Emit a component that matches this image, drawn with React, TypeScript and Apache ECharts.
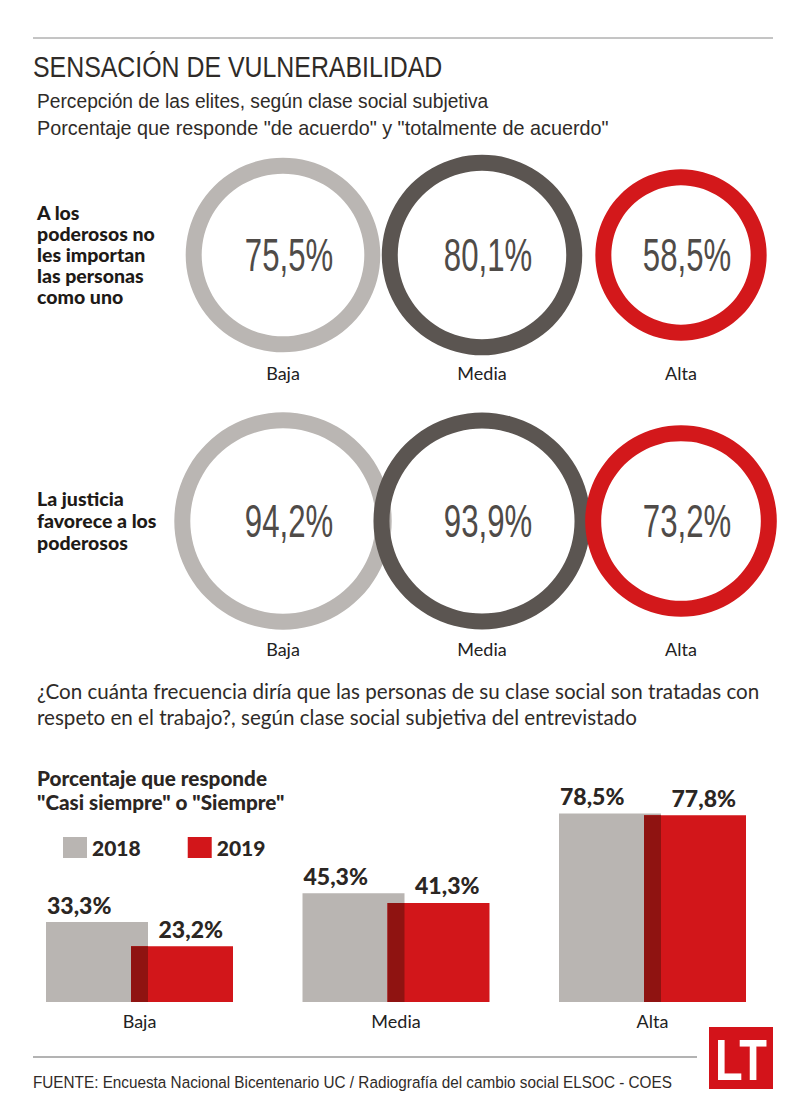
import React, { useEffect, useRef } from "react";
import * as echarts from "echarts";

// ---- data ----
const classes = ["Baja", "Media", "Alta"];
const poderososNoImportan = [75.5, 80.1, 58.5];
const justiciaFavorece = [94.2, 93.9, 73.2];
const barCategories = ["Baja", "Media", "Alta"];
const respeto2018 = [33.3, 45.3, 78.5];
const respeto2019 = [23.2, 41.3, 77.8];
const yearNames = ["2018", "2019"];

const row1Label = ["A los", "poderosos no", "les importan", "las personas", "como uno"];
const row2Label = ["La justicia", "favorece a los", "poderosos"];

// ---- styles ----
const RING_COLORS = ["#bab6b3", "#5b5551", "#d3181b"];
const GRAY = "#b9b5b2";
const RED = "#d2161a";
const OVERLAP = "#8f1311";
const SANS = '"Liberation Sans", Arial, sans-serif';
const LATO = 'Lato, "Noto Sans", sans-serif';
const RADIUS_K = 11.2;
const RING_W = 16;
const BAR_W = 102;
const BAR_OV = 17;

const fmt = (v: number) => v.toFixed(1).replace(".", ",") + "%";

function ringRender(params: any, api: any) {
  const idx = api.value(0);
  const v = api.value(2);
  const [cx, cy] = api.coord([idx, 0]);
  const r = RADIUS_K * Math.sqrt(v);
  return {
    type: "group",
    children: [
      {
        type: "ring",
        shape: { cx, cy, r, r0: r - RING_W },
        style: { fill: RING_COLORS[idx], blend: "multiply" },
      },
      {
        type: "text",
        x: cx + 6,
        y: cy,
        scaleX: 0.82,
        scaleY: 1.22,
        style: {
          text: fmt(v),
          fill: "#4f4b48",
          fontSize: 38,
          fontFamily: SANS,
          align: "center",
          verticalAlign: "middle",
        },
      },
    ],
  };
}

function bar2018Render(params: any, api: any) {
  const i = api.value(0);
  const v = api.value(1);
  const [cx, y0] = api.coord([i, 0]);
  const [, yTop] = api.coord([i, v]);
  const left = cx - (2 * BAR_W - BAR_OV) / 2;
  return {
    type: "group",
    children: [
      { type: "rect", shape: { x: left, y: yTop, width: BAR_W, height: y0 - yTop }, style: { fill: GRAY } },
      {
        type: "text",
        x: left + 1,
        y: yTop - 6,
        style: {
          text: fmt(v),
          fill: "#2b2623",
          fontSize: 23,
          fontWeight: 900,
          fontFamily: LATO,
          align: "left",
          verticalAlign: "bottom",
        },
      },
    ],
  };
}

function bar2019Render(params: any, api: any) {
  const i = api.value(0);
  const v = api.value(1);
  const prev = api.value(2);
  const [cx, y0] = api.coord([i, 0]);
  const [, yTop] = api.coord([i, v]);
  const [, yOv] = api.coord([i, Math.min(v, prev)]);
  const left = cx - (2 * BAR_W - BAR_OV) / 2 + BAR_W - BAR_OV;
  return {
    type: "group",
    children: [
      { type: "rect", shape: { x: left, y: yTop, width: BAR_W, height: y0 - yTop }, style: { fill: RED } },
      { type: "rect", shape: { x: left, y: yOv, width: BAR_OV, height: y0 - yOv }, style: { fill: OVERLAP } },
      {
        type: "text",
        x: left + BAR_W - 10,
        y: yTop - 6,
        style: {
          text: fmt(v),
          fill: "#2b2623",
          fontSize: 23,
          fontWeight: 900,
          fontFamily: LATO,
          align: "right",
          verticalAlign: "bottom",
        },
      },
    ],
  };
}

function txt(text: string, x: number, y: number, style: any, scaleX = 1) {
  return {
    type: "text",
    x,
    y,
    scaleX,
    style: { text, align: "left", verticalAlign: "top", ...style },
  };
}

function textLines(lines: string[], x: number, yStart: number, lh: number, style: any) {
  return lines.map((t, k) => txt(t, x, yStart + k * lh, style));
}

export default function App() {
  const ref = useRef<HTMLDivElement>(null);
  useEffect(() => {
    document.body.style.margin = "0";
    if (!ref.current) return;
    const chart = echarts.init(ref.current, undefined, { renderer: "svg" });

    const circleAxisLabel = { fontSize: 18, color: "#222", fontFamily: LATO, margin: 9 };
    const hiddenCat = { axisLine: { show: false }, axisTick: { show: false }, splitLine: { show: false } };

    const boldLabel = { fill: "#1e1a17", fontSize: 19.5, fontWeight: 900, fontFamily: LATO };
    const plain = { fill: "#2f2b28", fontFamily: SANS };

    const option: any = {
      animation: false,
      backgroundColor: "#ffffff",
      grid: [
        { left: 183.5, width: 597, top: 155, height: 200 },
        { left: 183.5, width: 597, top: 411, height: 220 },
        { left: 11.25, width: 769.5, top: 762, height: 240 },
      ],
      xAxis: [
        { type: "category", gridIndex: 0, data: classes, ...hiddenCat, axisLabel: circleAxisLabel },
        { type: "category", gridIndex: 1, data: classes, ...hiddenCat, axisLabel: circleAxisLabel },
        { type: "category", gridIndex: 2, data: barCategories, ...hiddenCat, axisLabel: { ...circleAxisLabel, margin: 10 } },
      ],
      yAxis: [
        { type: "value", gridIndex: 0, min: -1, max: 1, show: false },
        { type: "value", gridIndex: 1, min: -1, max: 1, show: false },
        { type: "value", gridIndex: 2, min: 0, max: 100, show: false },
      ],
      legend: {
        left: 63,
        top: 837,
        padding: 0,
        data: yearNames,
        icon: "rect",
        itemWidth: 24,
        itemHeight: 21,
        itemGap: 47,
        textStyle: { fontSize: 21, fontWeight: 900, color: "#2b2623", fontFamily: LATO },
      },
      series: [
        {
          type: "custom",
          name: "row1",
          xAxisIndex: 0,
          yAxisIndex: 0,
          data: classes.map((_, i) => [i, 0, poderososNoImportan[i]]),
          encode: { x: 0, y: 1 },
          renderItem: ringRender,
        },
        {
          type: "custom",
          name: "row2",
          xAxisIndex: 1,
          yAxisIndex: 1,
          data: classes.map((_, i) => [i, 0, justiciaFavorece[i]]),
          encode: { x: 0, y: 1 },
          renderItem: ringRender,
        },
        {
          type: "custom",
          name: yearNames[0],
          xAxisIndex: 2,
          yAxisIndex: 2,
          itemStyle: { color: GRAY },
          data: barCategories.map((_, i) => [i, respeto2018[i]]),
          encode: { x: 0, y: 1 },
          renderItem: bar2018Render,
        },
        {
          type: "custom",
          name: yearNames[1],
          xAxisIndex: 2,
          yAxisIndex: 2,
          itemStyle: { color: RED },
          data: barCategories.map((_, i) => [i, respeto2019[i], respeto2018[i]]),
          encode: { x: 0, y: 1 },
          renderItem: bar2019Render,
        },
      ],
      graphic: [
        { type: "line", shape: { x1: 33, y1: 38, x2: 773, y2: 38 }, style: { stroke: "#8a8a8a", lineWidth: 1 } },
        txt("SENSACIÓN DE VULNERABILIDAD", 33, 52, { ...plain, fontSize: 30 }, 0.83),
        txt("Percepción de las elites, según clase social subjetiva", 37, 91, { ...plain, fontSize: 20 }, 0.96),
        txt('Porcentaje que responde "de acuerdo" y "totalmente de acuerdo"', 37, 118, { ...plain, fontSize: 20 }, 0.99),
        ...textLines(row1Label, 37, 202, 21, boldLabel),
        ...textLines(row2Label, 37, 488, 22, boldLabel),
        txt(
          "¿Con cuánta frecuencia diría que las personas de su clase social son tratadas con",
          37,
          680,
          { fill: "#2f2b28", fontSize: 20.6, fontFamily: LATO }
        ),
        txt(
          "respeto en el trabajo?, según clase social subjetiva del entrevistado",
          37,
          706,
          { fill: "#2f2b28", fontSize: 20.6, fontFamily: LATO }
        ),
        txt("Porcentaje que responde", 37, 767, { fill: "#2b2623", fontSize: 20.7, fontWeight: 900, fontFamily: LATO }),
        txt('"Casi siempre" o "Siempre"', 37, 791, { fill: "#2b2623", fontSize: 20.7, fontWeight: 900, fontFamily: LATO }),
        { type: "line", shape: { x1: 33, y1: 1057, x2: 697, y2: 1057 }, style: { stroke: "#9a9a9a", lineWidth: 1.5 } },
        txt(
          "FUENTE: Encuesta Nacional Bicentenario UC / Radiografía del cambio social ELSOC - COES",
          33,
          1073,
          { ...plain, fontSize: 17 },
          0.9
        ),
        { type: "rect", shape: { x: 709, y: 1027, width: 64, height: 62 }, style: { fill: "#d3131a" } },
        {
          type: "text",
          x: 741,
          y: 1060,
          scaleX: 0.78,
          style: {
            text: "LT",
            fill: "#ffffff",
            fontSize: 58,
            fontWeight: "bold",
            fontFamily: SANS,
            align: "center",
            verticalAlign: "middle",
          },
        },
      ],
    };
    chart.setOption(option);
    return () => chart.dispose();
  }, []);
  return <div ref={ref} style={{ width: 800, height: 1117 }} />;
}
